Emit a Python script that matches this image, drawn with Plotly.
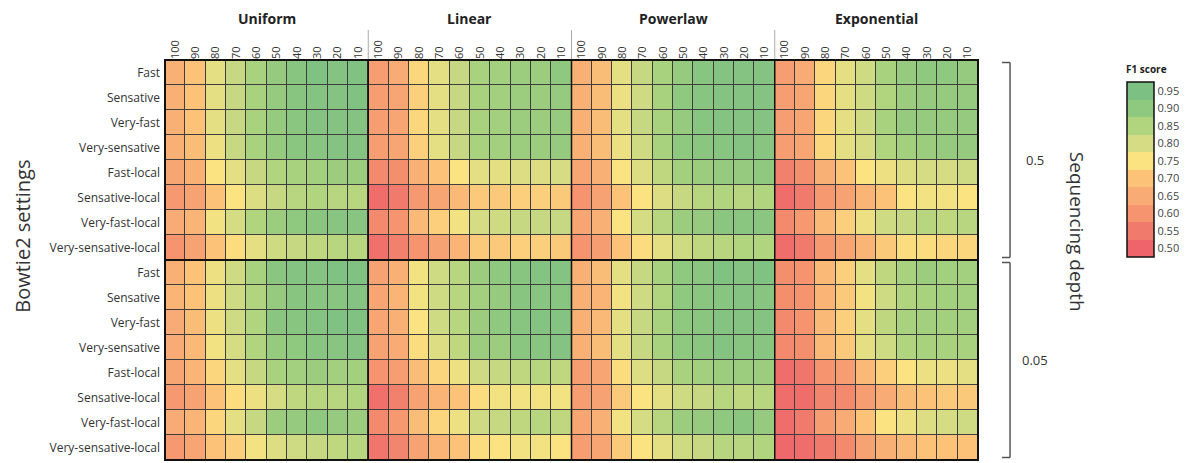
import plotly.graph_objects as go

# ---------------- data ----------------
settings = ["Fast", "Sensative", "Very-fast", "Very-sensative", "Fast-local",
            "Sensative-local", "Very-fast-local", "Very-sensative-local"]
read_pct = ["100", "90", "80", "70", "60", "50", "40", "30", "20", "10"]
distributions = ["Uniform", "Linear", "Powerlaw", "Exponential"]
depths = ["0.5", "0.05"]

uniform_d05 = [
    [0.66, 0.70, 0.78, 0.82, 0.86, 0.89, 0.92, 0.94, 0.93, 0.94],
    [0.66, 0.70, 0.78, 0.82, 0.86, 0.89, 0.92, 0.93, 0.93, 0.94],
    [0.66, 0.70, 0.78, 0.82, 0.86, 0.89, 0.91, 0.93, 0.93, 0.93],
    [0.66, 0.69, 0.77, 0.82, 0.86, 0.89, 0.91, 0.92, 0.93, 0.93],
    [0.64, 0.66, 0.75, 0.78, 0.82, 0.85, 0.86, 0.87, 0.88, 0.88],
    [0.61, 0.63, 0.70, 0.75, 0.79, 0.82, 0.84, 0.85, 0.84, 0.84],
    [0.65, 0.67, 0.76, 0.80, 0.85, 0.88, 0.90, 0.91, 0.92, 0.92],
    [0.60, 0.63, 0.70, 0.74, 0.78, 0.81, 0.82, 0.83, 0.84, 0.84],
]
uniform_d005 = [
    [0.66, 0.70, 0.77, 0.81, 0.86, 0.91, 0.93, 0.93, 0.94, 0.94],
    [0.67, 0.70, 0.77, 0.81, 0.85, 0.89, 0.92, 0.92, 0.92, 0.93],
    [0.65, 0.69, 0.77, 0.81, 0.85, 0.91, 0.92, 0.93, 0.94, 0.94],
    [0.65, 0.68, 0.76, 0.80, 0.85, 0.89, 0.90, 0.92, 0.92, 0.93],
    [0.64, 0.67, 0.73, 0.78, 0.82, 0.86, 0.87, 0.88, 0.87, 0.87],
    [0.61, 0.63, 0.70, 0.74, 0.77, 0.80, 0.83, 0.84, 0.84, 0.85],
    [0.65, 0.67, 0.73, 0.78, 0.82, 0.88, 0.89, 0.90, 0.89, 0.88],
    [0.61, 0.64, 0.70, 0.72, 0.76, 0.79, 0.81, 0.82, 0.83, 0.84],
]
linear_d05 = [
    [0.62, 0.65, 0.73, 0.78, 0.82, 0.86, 0.87, 0.88, 0.88, 0.90],
    [0.62, 0.64, 0.72, 0.78, 0.82, 0.86, 0.87, 0.88, 0.88, 0.89],
    [0.62, 0.64, 0.73, 0.78, 0.82, 0.86, 0.87, 0.88, 0.88, 0.89],
    [0.62, 0.64, 0.72, 0.78, 0.82, 0.86, 0.87, 0.88, 0.88, 0.89],
    [0.58, 0.59, 0.66, 0.70, 0.75, 0.78, 0.78, 0.79, 0.79, 0.80],
    [0.52, 0.55, 0.61, 0.64, 0.68, 0.71, 0.71, 0.72, 0.72, 0.71],
    [0.58, 0.60, 0.68, 0.72, 0.76, 0.80, 0.81, 0.82, 0.82, 0.82],
    [0.53, 0.56, 0.60, 0.63, 0.67, 0.71, 0.71, 0.72, 0.72, 0.71],
]
linear_d005 = [
    [0.63, 0.66, 0.76, 0.81, 0.84, 0.88, 0.90, 0.92, 0.93, 0.93],
    [0.64, 0.67, 0.76, 0.81, 0.84, 0.87, 0.89, 0.92, 0.92, 0.92],
    [0.64, 0.66, 0.75, 0.81, 0.84, 0.88, 0.90, 0.92, 0.93, 0.93],
    [0.63, 0.65, 0.74, 0.79, 0.83, 0.88, 0.88, 0.91, 0.92, 0.93],
    [0.60, 0.62, 0.69, 0.73, 0.77, 0.81, 0.82, 0.83, 0.84, 0.83],
    [0.53, 0.56, 0.63, 0.67, 0.70, 0.74, 0.76, 0.76, 0.76, 0.76],
    [0.58, 0.61, 0.69, 0.73, 0.77, 0.81, 0.82, 0.83, 0.84, 0.83],
    [0.54, 0.57, 0.63, 0.67, 0.70, 0.74, 0.75, 0.76, 0.76, 0.75],
]
powerlaw_d05 = [
    [0.66, 0.69, 0.78, 0.82, 0.86, 0.89, 0.92, 0.93, 0.93, 0.93],
    [0.66, 0.69, 0.77, 0.81, 0.86, 0.90, 0.92, 0.93, 0.93, 0.93],
    [0.66, 0.69, 0.78, 0.82, 0.86, 0.89, 0.92, 0.93, 0.93, 0.93],
    [0.66, 0.69, 0.77, 0.81, 0.86, 0.90, 0.91, 0.92, 0.93, 0.92],
    [0.64, 0.66, 0.75, 0.79, 0.83, 0.87, 0.88, 0.89, 0.89, 0.90],
    [0.60, 0.63, 0.70, 0.75, 0.79, 0.82, 0.84, 0.85, 0.84, 0.85],
    [0.64, 0.66, 0.75, 0.80, 0.84, 0.88, 0.89, 0.91, 0.91, 0.91],
    [0.60, 0.62, 0.70, 0.74, 0.78, 0.81, 0.83, 0.84, 0.85, 0.85],
]
powerlaw_d005 = [
    [0.66, 0.69, 0.78, 0.82, 0.86, 0.90, 0.91, 0.94, 0.93, 0.94],
    [0.66, 0.67, 0.76, 0.81, 0.85, 0.90, 0.91, 0.92, 0.93, 0.92],
    [0.66, 0.68, 0.78, 0.82, 0.86, 0.90, 0.91, 0.93, 0.93, 0.93],
    [0.66, 0.69, 0.78, 0.82, 0.86, 0.90, 0.91, 0.93, 0.92, 0.92],
    [0.62, 0.64, 0.74, 0.79, 0.82, 0.86, 0.87, 0.88, 0.88, 0.88],
    [0.62, 0.63, 0.71, 0.75, 0.78, 0.81, 0.82, 0.84, 0.83, 0.84],
    [0.64, 0.66, 0.76, 0.80, 0.84, 0.88, 0.89, 0.90, 0.91, 0.89],
    [0.62, 0.64, 0.71, 0.75, 0.78, 0.81, 0.82, 0.84, 0.84, 0.85],
]
exponential_d05 = [
    [0.62, 0.65, 0.73, 0.78, 0.81, 0.86, 0.89, 0.90, 0.90, 0.89],
    [0.62, 0.64, 0.73, 0.78, 0.81, 0.85, 0.88, 0.89, 0.89, 0.89],
    [0.62, 0.64, 0.73, 0.78, 0.81, 0.86, 0.89, 0.89, 0.89, 0.89],
    [0.62, 0.64, 0.73, 0.78, 0.80, 0.85, 0.87, 0.88, 0.89, 0.89],
    [0.56, 0.59, 0.66, 0.70, 0.75, 0.77, 0.79, 0.80, 0.80, 0.81],
    [0.52, 0.55, 0.61, 0.63, 0.67, 0.70, 0.75, 0.76, 0.76, 0.75],
    [0.58, 0.61, 0.68, 0.72, 0.77, 0.81, 0.82, 0.84, 0.83, 0.84],
    [0.52, 0.55, 0.61, 0.64, 0.67, 0.71, 0.74, 0.74, 0.73, 0.73],
]
exponential_d005 = [
    [0.59, 0.60, 0.68, 0.72, 0.78, 0.83, 0.86, 0.88, 0.87, 0.87],
    [0.59, 0.60, 0.67, 0.71, 0.76, 0.81, 0.85, 0.86, 0.87, 0.87],
    [0.58, 0.60, 0.68, 0.72, 0.78, 0.83, 0.86, 0.87, 0.87, 0.87],
    [0.58, 0.59, 0.68, 0.71, 0.78, 0.81, 0.85, 0.86, 0.86, 0.86],
    [0.52, 0.54, 0.60, 0.62, 0.68, 0.72, 0.75, 0.77, 0.77, 0.78],
    [0.52, 0.52, 0.57, 0.58, 0.62, 0.65, 0.69, 0.70, 0.71, 0.71],
    [0.52, 0.55, 0.62, 0.65, 0.70, 0.75, 0.77, 0.79, 0.80, 0.81],
    [0.51, 0.52, 0.55, 0.58, 0.63, 0.66, 0.68, 0.70, 0.70, 0.70],
]

colorbar_ticks = [0.50, 0.55, 0.60, 0.65, 0.70, 0.75, 0.80, 0.85, 0.90, 0.95]
bin_colors = ["#EF636B", "#F07B6C", "#F5946F", "#F8AB74", "#FBC278",
              "#FBE381", "#D5DC84", "#B0D57E", "#8FC87F", "#7CC083"]

# ---------------- assemble ----------------
by_depth = [
    [uniform_d05, linear_d05, powerlaw_d05, exponential_d05],
    [uniform_d005, linear_d005, powerlaw_d005, exponential_d005],
]
z = []
y_labels = []
for d_blocks in by_depth:
    for i, s in enumerate(settings):
        row = []
        for blk in d_blocks:
            row += blk[i]
        z.append(row)
        y_labels.append(s)

n_cols = len(read_pct) * len(distributions)
n_rows = len(z)
x_idx = list(range(n_cols))
y_idx = list(range(n_rows))
x_text = read_pct * len(distributions)

FONT = "Open Sans"
zmin, zmax = colorbar_ticks[0], colorbar_ticks[-1]
cont_scale = [[(v - zmin) / (zmax - zmin), c] for v, c in zip(colorbar_ticks, bin_colors)]
disc_scale = []
nb = len(bin_colors)
for i, c in enumerate(bin_colors):
    disc_scale.append([i / nb, c])
    disc_scale.append([(i + 1) / nb, c])

hover_x = [f"{d} {p}" for d in distributions for p in read_pct]

fig = go.Figure()
fig.add_trace(go.Heatmap(
    z=z, x=x_idx, y=y_idx, colorscale=cont_scale, zmin=zmin, zmax=zmax,
    xgap=1, ygap=1, showscale=False,
    customdata=[[hover_x[c] for c in range(n_cols)] for _ in range(n_rows)],
    hovertemplate="%{customdata}<br>F1=%{z}<extra></extra>",
))
# dummy trace carrying the stepped colour bar
fig.add_trace(go.Scatter(
    x=[0], y=[0], mode="markers", hoverinfo="skip", showlegend=False,
    marker=dict(size=1, opacity=0, color=[zmin], cmin=zmin - 0.025, cmax=zmax + 0.025,
                colorscale=disc_scale, showscale=True,
                colorbar=dict(
                    x=1.183, xanchor="left", xref="paper", xpad=0, ypad=0,
                    y=0.9925, yanchor="top", len=0.485, lenmode="fraction",
                    thickness=27, thicknessmode="pixels",
                    outlinewidth=1.5, outlinecolor="#111",
                    tickvals=colorbar_ticks,
                    ticktext=[f"{v:.2f}" for v in colorbar_ticks],
                    ticks="", tickfont=dict(size=11, color="#444", family=FONT),
                    title=dict(text="<b>F1 score</b>", side="top",
                               font=dict(size=10, color="#222", family=FONT)),
                ))))

shapes = []
ngroups = len(distributions)
gw = len(read_pct)
# group separators (full height) and header separators
for g in range(1, ngroups):
    xb = g * gw - 0.5
    shapes.append(dict(type="line", xref="x", yref="paper", x0=xb, x1=xb, y0=0, y1=1,
                       line=dict(color="#111", width=1.5)))
    shapes.append(dict(type="line", xref="x", yref="paper", x0=xb, x1=xb, y0=1, y1=1.075,
                       line=dict(color="#aaa", width=1)))
# depth separator
mid = len(settings) - 0.5
shapes.append(dict(type="line", xref="paper", yref="y", x0=0, x1=1, y0=mid, y1=mid,
                   line=dict(color="#111", width=2)))
# outer border
shapes.append(dict(type="rect", xref="paper", yref="paper", x0=0, x1=1, y0=0, y1=1,
                   line=dict(color="#111", width=2)))
# brackets on the right
xb_line, xb_tick = 1.0394, 1.0295
for d in range(len(depths)):
    y0 = d * len(settings) - 0.4
    y1 = (d + 1) * len(settings) - 0.6
    for seg in [(xb_line, y0, xb_line, y1), (xb_tick, y0, xb_line, y0), (xb_tick, y1, xb_line, y1)]:
        shapes.append(dict(type="line", xref="paper", yref="y",
                           x0=seg[0], y0=seg[1], x1=seg[2], y1=seg[3],
                           line=dict(color="#555", width=1.5)))

annotations = []
for g, name in enumerate(distributions):
    annotations.append(dict(text=f"<b>{name}</b>", x=g * gw + (gw - 1) / 2, xref="x",
                            xanchor="center",
                            y=1, yref="paper", yanchor="middle", yshift=42, showarrow=False,
                            font=dict(size=14, color="#222", family=FONT)))
for d, lab in enumerate(depths):
    annotations.append(dict(text=lab, x=1.070, xref="paper", xanchor="center",
                            y=d * len(settings) + (len(settings) - 1) / 2, yref="y",
                            yanchor="middle",
                            showarrow=False, font=dict(size=13, color="#333", family=FONT)))
annotations.append(dict(text="Sequencing depth", x=1.122, xref="paper", xanchor="center",
                        y=0.57, yref="paper", yanchor="middle",
                        textangle=90, showarrow=False,
                        font=dict(size=19, color="#333", family=FONT)))
annotations.append(dict(text="Bowtie2 settings", x=-0.175, xref="paper", xanchor="center",
                        y=0.56, yref="paper", yanchor="middle",
                        textangle=-90, showarrow=False,
                        font=dict(size=20, color="#333", family=FONT)))

# the page body adds an 8px offset, so the figure is sized to fit inside the window
fig.update_layout(
    width=1188, height=455,
    margin=dict(l=157, r=218, t=52, b=3),
    paper_bgcolor="white", plot_bgcolor="#3e3e3e",
    font=dict(family=FONT, color="#333"),
    shapes=shapes, annotations=annotations, showlegend=False,
    xaxis=dict(side="top", tickmode="array", tickvals=x_idx, ticktext=x_text,
               tickangle=-90, range=[-0.5, n_cols - 0.5], showgrid=False, zeroline=False,
               ticks="", tickfont=dict(size=11, color="#333", family=FONT), fixedrange=True),
    yaxis=dict(tickmode="array", tickvals=y_idx, ticktext=y_labels,
               range=[n_rows - 0.5, -0.5], showgrid=False, zeroline=False,
               ticks="", ticklabelstandoff=4,
               tickfont=dict(size=12, color="#333", family=FONT), fixedrange=True),
)

fig.write_html("out.html")
